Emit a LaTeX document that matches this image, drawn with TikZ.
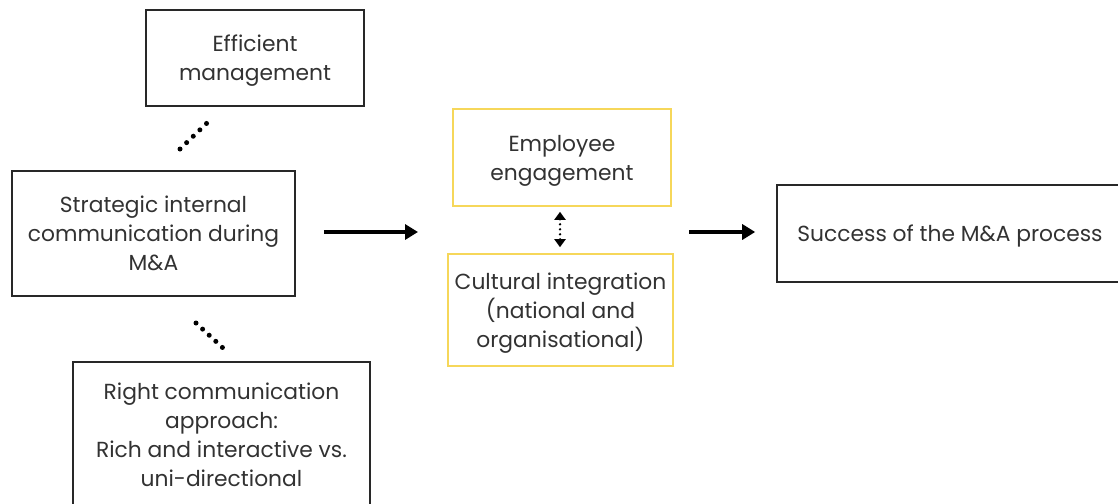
\documentclass[tikz,border=0pt]{standalone}
\usepackage{fontspec}
\setmainfont{Poppins}
\usetikzlibrary{arrows.meta,calc}
\definecolor{txt}{RGB}{50,50,50}
\definecolor{boxline}{RGB}{40,40,40}
\definecolor{gold}{RGB}{246,215,90}
\begin{document}
\begin{tikzpicture}[x=1pt,y=-1pt,
  every node/.style={font=\fontsize{21.8}{29}\selectfont, text=txt, align=center, inner sep=0pt, text depth=0pt},
  blackbox/.style={draw=boxline, line width=1.6pt, rectangle},
  goldbox/.style={draw=gold, line width=1.6pt, rectangle},
  bigarrow/.style={line width=4.5pt, -{Triangle[width=15pt,length=13pt]}},
  dotrow/.style={line width=5pt, line cap=round, dash pattern=on 0pt off #1},
  linkarrow/.style={line width=2.6pt, line cap=round, dash pattern=on 0pt off 5pt,
    {Triangle[width=11pt,length=8pt]}-{Triangle[width=11pt,length=8pt]}}]
  \useasboundingbox (0,0) rectangle (1118,503);
  \clip (0,0) rectangle (1118,503);

  % left column
  \node[blackbox, minimum width=218pt, minimum height=96pt] (eff) at (255,58) {Efficient\\management};
  \node[blackbox, minimum width=283pt, minimum height=125pt] (strat) at (153.5,233.5)
    {Strategic internal\\communication during\\M\&A};
  \node[blackbox, minimum width=297pt, minimum height=146pt] (right) at (221.5,435)
    {Right communication\\approach:\\Rich and interactive vs.\\uni-directional};

  % middle column
  \node[goldbox, minimum width=218pt, minimum height=97pt] (emp) at (562,157.5) {Employee\\engagement};
  \node[goldbox, minimum width=225pt, minimum height=112pt] (cult) at (560.5,310)
    {Cultural integration\\(national and\\organisational)};

  % outcome
  \node[blackbox, minimum width=346pt, minimum height=97pt] (succ) at (950,233.5) {Success of the M\&A process};

  % dotted links
  \coordinate (u1) at (180,149);
  \coordinate (u2) at (207,123);
  \coordinate (l1) at (196,323);
  \coordinate (l2) at (223,348);
  \draw[dotrow=9.2pt] (u1) -- (u2);
  \draw[dotrow=9.0pt] (l1) -- (l2);

  % connectors
  \coordinate (mid) at (448,232);
  \draw[bigarrow, shorten <=28pt, shorten >=30pt] (strat.east |- mid) -- (mid);
  \coordinate (midr) at (673,232);
  \draw[bigarrow, shorten <=16pt, shorten >=21pt] (midr) -- (succ.west |- midr);
  \draw[linkarrow, shorten <=5pt, shorten >=6pt] (emp.south -| 560,0) -- (cult.north -| 560,0);
\end{tikzpicture}
\end{document}
